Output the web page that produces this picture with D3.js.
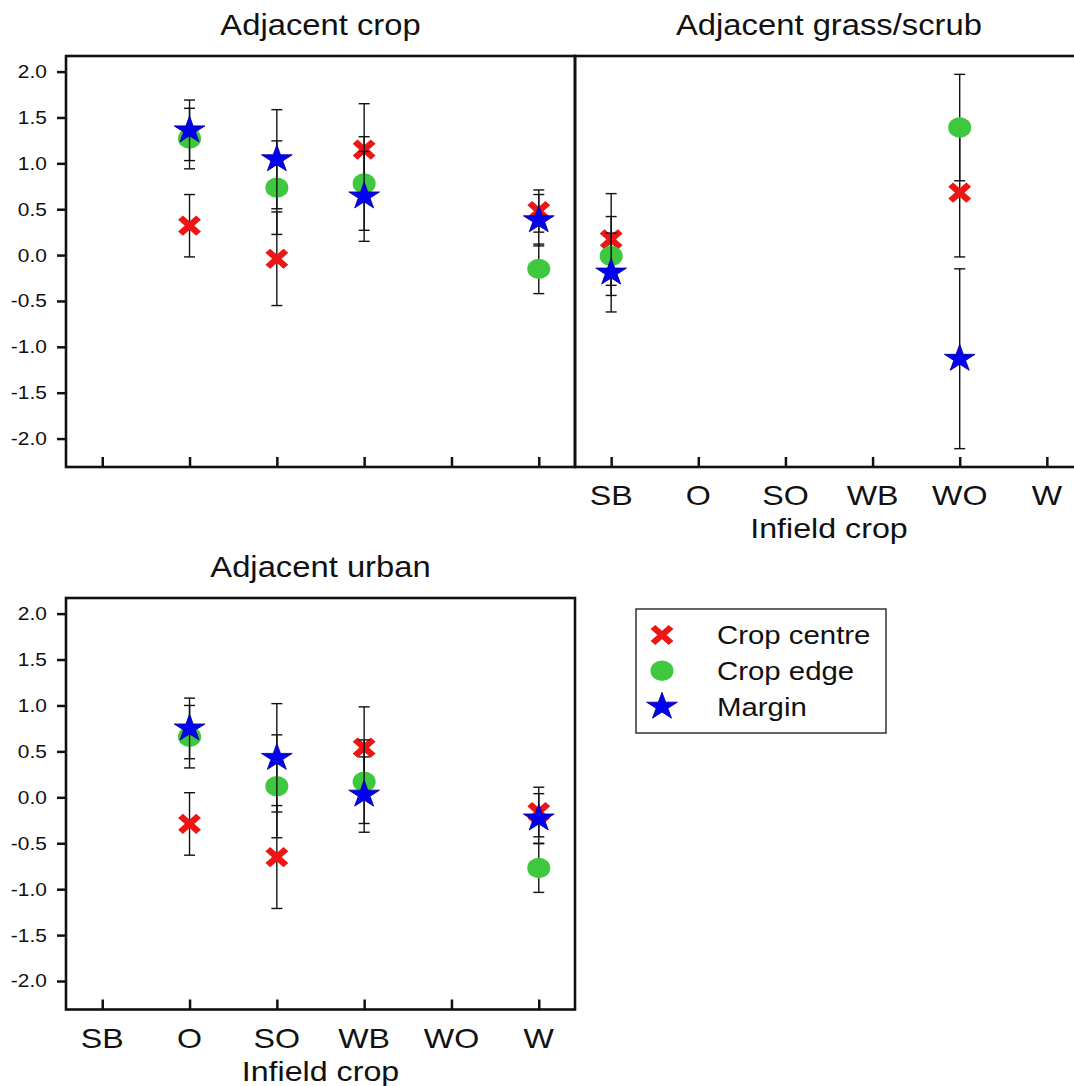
<!DOCTYPE html>
<html>
<head>
<meta charset="utf-8">
<script src="https://cdn.jsdelivr.net/npm/d3@7"></script>
<style>
  body { margin: 0; background: #fff; }
  svg { display: block; font-family: "Liberation Sans", Arial, sans-serif; }
</style>
</head>
<body>
<svg id="chart" width="1074" height="1086"></svg>
<script>
// ---- data -----------------------------------------------------------
const categories = ["SB", "O", "SO", "WB", "WO", "W"];
const seriesNames = ["Crop centre", "Crop edge", "Margin"];
const yTickValues = [2.0, 1.5, 1.0, 0.5, 0.0, -0.5, -1.0, -1.5, -2.0];
const xTitle = "Infield crop";

// Adjacent crop
const cropCentreMean  = [null, 0.32, -0.04, 1.15, null, 0.48];
const cropCentreErr   = [null, 0.34, 0.51, 0.50, null, 0.23];
const cropEdgeMean    = [null, 1.27, 0.735, 0.78, null, -0.15];
const cropEdgeErr     = [null, 0.33, 0.51, 0.51, null, 0.27];
const cropMarginMean  = [null, 1.36, 1.045, 0.64, null, 0.38];
const cropMarginErr   = [null, 0.33, 0.54, 0.49, null, 0.28];

// Adjacent grass/scrub
const grassCentreMean = [0.17, null, null, null, 0.68, null];
const grassCentreErr  = [0.50, null, null, null, 0.70, null];
const grassEdgeMean   = [-0.01, null, null, null, 1.39, null];
const grassEdgeErr    = [0.43, null, null, null, 0.58, null];
const grassMarginMean = [-0.19, null, null, null, -1.13, null];
const grassMarginErr  = [0.43, null, null, null, 0.98, null];

// Adjacent urban
const urbanCentreMean = [null, -0.29, -0.65, 0.54, null, -0.16];
const urbanCentreErr  = [null, 0.34, 0.56, 0.445, null, 0.27];
const urbanEdgeMean   = [null, 0.66, 0.12, 0.17, null, -0.77];
const urbanEdgeErr    = [null, 0.34, 0.56, 0.455, null, 0.265];
const urbanMarginMean = [null, 0.75, 0.43, 0.03, null, -0.23];
const urbanMarginErr  = [null, 0.33, 0.59, 0.41, null, 0.27];

// ---- styling --------------------------------------------------------
const colors = { "Crop centre": "#ee1515", "Crop edge": "#3fc83f", "Margin": "#0000f2" };
const SX = 1.13;            // horizontal stretch applied to glyphs and markers
const yDomain = [-2.31, 2.17];

const svg = d3.select("#chart");
svg.append("rect").attr("width", 1074).attr("height", 1086).attr("fill", "#fff");

function stretchedText(g, x, y, str, size, anchor) {
  return g.append("text")
    .attr("transform", `translate(${x},${y}) scale(${SX},1)`)
    .attr("text-anchor", anchor || "middle")
    .attr("font-size", size)
    .attr("fill", "#111")
    .text(str);
}

const crossPath = (() => { const r = 8; return `M${-r},${-r}L${r},${r}M${-r},${r}L${r},${-r}`; })();
const starPath = d3.symbol(d3.symbolStar, 230)();

function drawMarker(g, name, cx, cy) {
  const m = g.append("g").attr("transform", `translate(${cx},${cy}) scale(${SX},1)`);
  if (name === "Crop centre") {
    m.append("path").attr("d", crossPath).attr("stroke", colors[name])
      .attr("stroke-width", 6).attr("fill", "none");
  } else if (name === "Crop edge") {
    m.append("circle").attr("r", 10.2).attr("fill", colors[name]);
  } else {
    m.append("path").attr("d", starPath).attr("fill", colors[name])
      .attr("stroke", "#00009a").attr("stroke-width", 0.8);
  }
}

// ---- panels ---------------------------------------------------------
const panels = [
  { title: "Adjacent crop", x0: 66, x1: 575, y0: 56, y1: 467, yAxis: true, xLabels: false,
    series: [[cropCentreMean, cropCentreErr], [cropEdgeMean, cropEdgeErr], [cropMarginMean, cropMarginErr]] },
  { title: "Adjacent grass/scrub", x0: 575, x1: 1083, y0: 56, y1: 467, yAxis: false, xLabels: true,
    series: [[grassCentreMean, grassCentreErr], [grassEdgeMean, grassEdgeErr], [grassMarginMean, grassMarginErr]] },
  { title: "Adjacent urban", x0: 66, x1: 575, y0: 598, y1: 1009.5, yAxis: true, xLabels: true,
    series: [[urbanCentreMean, urbanCentreErr], [urbanEdgeMean, urbanEdgeErr], [urbanMarginMean, urbanMarginErr]] }
];

panels.forEach(p => {
  const g = svg.append("g");
  const x = d3.scalePoint().domain(categories).range([p.x0, p.x1]).padding(0.415);
  const y = d3.scaleLinear().domain(yDomain).range([p.y1, p.y0]);

  // title
  stretchedText(g, (p.x0 + p.x1) / 2, p.y0 - 21, p.title, 29);

  // bottom axis with inward ticks
  const xa = g.append("g").attr("transform", `translate(0,${p.y1})`)
    .call(d3.axisBottom(x).tickSize(-10).tickSizeOuter(0));
  xa.select(".domain").remove();
  xa.selectAll(".tick line").attr("stroke", "#111").attr("stroke-width", 2.5);
  xa.selectAll(".tick text").remove();
  if (p.xLabels) {
    categories.forEach(c => stretchedText(g, x(c), p.y1 + 38, c, 28.5));
    stretchedText(g, (p.x0 + p.x1) / 2, p.y1 + 71, xTitle, 28.5);
  }

  // left axis with outward ticks
  if (p.yAxis) {
    const ya = g.append("g").attr("transform", `translate(${p.x0},0)`)
      .call(d3.axisLeft(y).tickValues(yTickValues).tickSize(9).tickPadding(8)
        .tickFormat(d => d.toFixed(1)));
    ya.select(".domain").remove();
    ya.selectAll(".tick line").attr("stroke", "#111").attr("stroke-width", 2.5);
    ya.selectAll(".tick text")
      .attr("font-size", 18.5).attr("fill", "#111")
      .attr("font-family", "\"Liberation Sans\", Arial, sans-serif")
      .attr("transform", `scale(${SX},1)`);
  }

  // frame
  g.append("rect").attr("x", p.x0).attr("y", p.y0)
    .attr("width", p.x1 - p.x0).attr("height", p.y1 - p.y0)
    .attr("fill", "none").attr("stroke", "#111").attr("stroke-width", 2.6);

  // error bars and markers, one series at a time
  p.series.forEach(([means, errs], si) => {
    const name = seriesNames[si];
    const sg = g.append("g");
    categories.forEach((c, i) => {
      const v = means[i];
      if (v == null) return;
      const e = errs[i];
      const cx = x(c);
      const hi = y(v + e), lo = y(v - e);
      sg.append("line").attr("x1", cx).attr("x2", cx).attr("y1", hi).attr("y2", lo)
        .attr("stroke", "#111").attr("stroke-width", 1.4);
      [hi, lo].forEach(yy => sg.append("line")
        .attr("x1", cx - 5.5).attr("x2", cx + 5.5).attr("y1", yy).attr("y2", yy)
        .attr("stroke", "#111").attr("stroke-width", 1.4));
    });
    categories.forEach((c, i) => {
      const v = means[i];
      if (v == null) return;
      drawMarker(sg, name, x(c), y(v));
    });
  });
});

// ---- legend ---------------------------------------------------------
const lg = svg.append("g");
lg.append("rect").attr("x", 636).attr("y", 609).attr("width", 250).attr("height", 124)
  .attr("fill", "#fff").attr("stroke", "#333").attr("stroke-width", 1.5);
seriesNames.forEach((name, i) => {
  const cy = 635 + i * 35.8;
  drawMarker(lg, name, 662, cy);
  stretchedText(lg, 717, cy + 9, name, 26, "start");
});
</script>
</body>
</html>
